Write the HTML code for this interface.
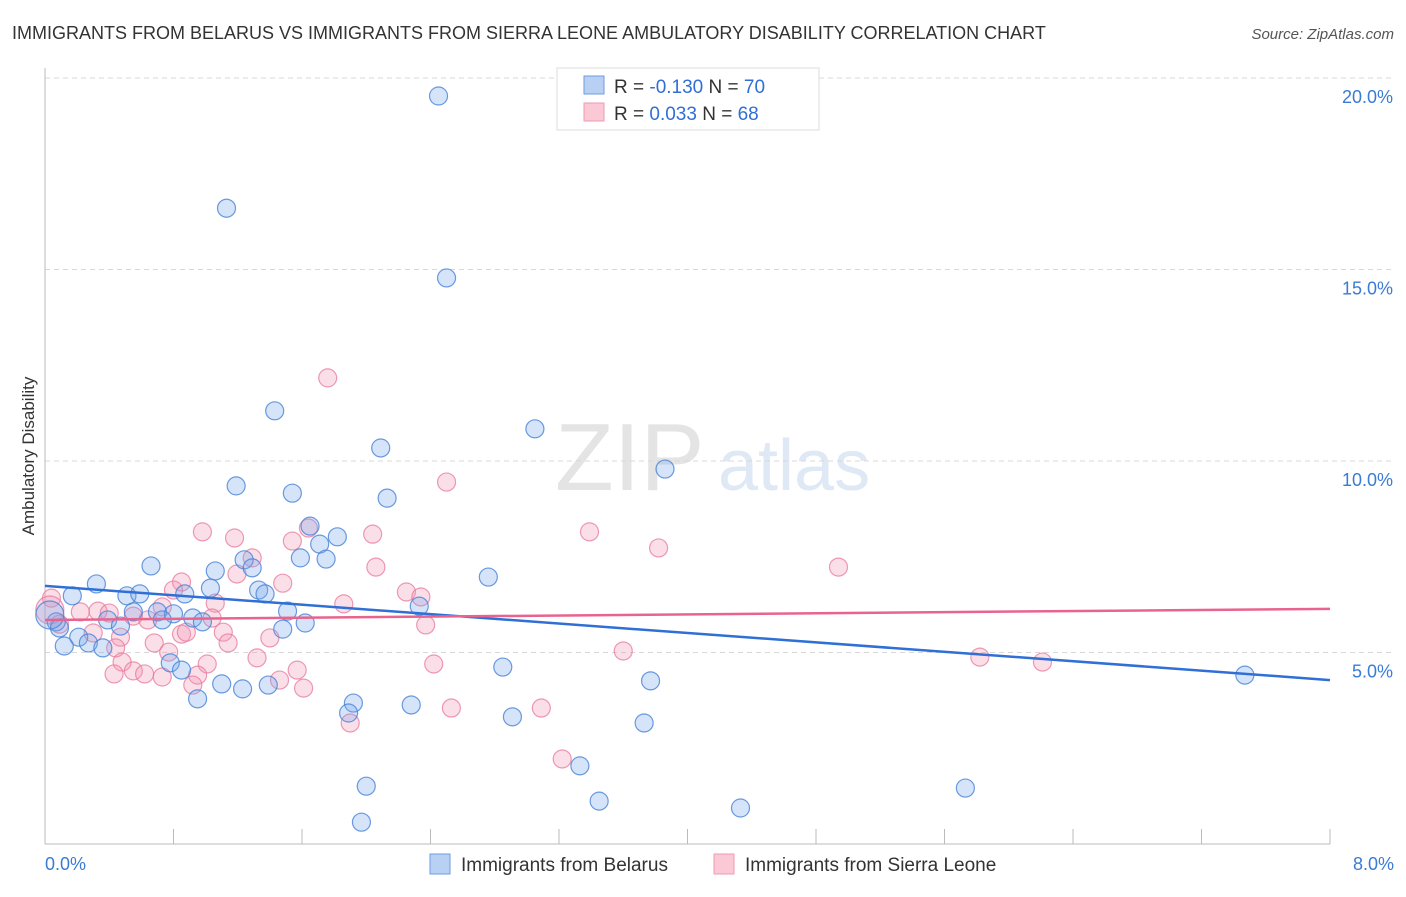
<!DOCTYPE html>
<html><head><meta charset="utf-8"><style>
body{margin:0;background:#fff;font-family:"Liberation Sans",sans-serif;}
svg text{font-family:"Liberation Sans",sans-serif;}
</style></head><body>
<svg id="chart" width="1406" height="892" xmlns="http://www.w3.org/2000/svg">
<text x="12" y="39" font-size="18" fill="#333">IMMIGRANTS FROM BELARUS VS IMMIGRANTS FROM SIERRA LEONE AMBULATORY DISABILITY CORRELATION CHART</text>
<text x="1394" y="39" font-size="15" fill="#555" text-anchor="end" font-style="italic">Source: ZipAtlas.com</text>
<text x="555" y="490" font-size="96" fill="#e4e4e4" font-family="Liberation Serif">ZIP</text>
<text x="718" y="490" font-size="72" fill="#dfe8f5">atlas</text>
<g id="grid"></g>
<g id="axes"></g>
<g id="marks"></g>
<text transform="translate(34,456) rotate(-90)" font-size="17" fill="#333" text-anchor="middle">Ambulatory Disability</text>
<g>
<rect x="557" y="68" width="262" height="62" fill="#fff" stroke="#ddd"/>
<rect x="584" y="76" width="20" height="18" fill="#b8d0f4" stroke="#6f9be0"/>
<rect x="584" y="103" width="20" height="18" fill="#fbc8d6" stroke="#ec9ab3"/>
<text x="614" y="93" font-size="19" fill="#333">R = <tspan fill="#2f6fd6">-0.130</tspan>   N = <tspan fill="#2f6fd6">70</tspan></text>
<text x="614" y="120" font-size="19" fill="#333">R =  <tspan fill="#2f6fd6">0.033</tspan>   N = <tspan fill="#2f6fd6">68</tspan></text>
</g>
<g>
<rect x="430" y="854" width="20" height="20" fill="#b8d0f4" stroke="#6f9be0"/>
<text x="461" y="871" font-size="19" fill="#333">Immigrants from Belarus</text>
<rect x="714" y="854" width="20" height="20" fill="#fbc8d6" stroke="#ec9ab3"/>
<text x="745" y="871" font-size="19" fill="#333">Immigrants from Sierra Leone</text>
</g>
</svg>
<script>
const blueX=[2.45,1.13,2.50,1.43,3.05,2.09,3.86,1.19,1.54,2.13,1.65,1.82,1.71,1.59,1.75,1.24,0.66,1.06,1.29,2.76,0.32,1.03,1.33,1.37,0.51,0.59,0.87,0.17,2.33,1.51,0.70,0.55,0.80,0.92,0.39,0.73,1.62,0.98,0.47,1.48,0.07,0.09,0.21,0.27,0.12,0.36,0.78,0.85,2.85,7.47,3.77,1.10,1.23,1.39,0.95,1.92,2.28,1.89,2.91,3.73,3.33,2.00,5.73,3.45,4.33,1.97,0.03];
const blueY=[19.53,16.6,14.78,11.31,10.84,10.34,9.79,9.35,9.16,9.03,8.30,8.02,7.83,7.47,7.44,7.42,7.26,7.13,7.21,6.97,6.79,6.68,6.63,6.53,6.48,6.53,6.53,6.48,6.21,6.08,6.06,6.06,6.01,5.90,5.85,5.85,5.77,5.80,5.69,5.61,5.80,5.64,5.40,5.25,5.17,5.12,4.73,4.54,4.62,4.41,4.26,4.18,4.05,4.15,3.79,3.68,3.63,3.42,3.32,3.16,2.04,1.51,1.46,1.12,0.94,0.57,5.98];
const pinkX=[1.76,2.50,0.98,3.39,1.18,2.04,1.64,1.54,3.82,1.29,4.94,2.06,1.195,0.85,1.48,0.80,2.25,2.34,0.04,1.86,1.06,0.73,0.33,0.22,0.40,0.55,1.04,0.64,0.09,2.37,0.30,0.85,0.88,1.11,0.47,1.40,0.68,1.14,0.44,0.77,3.60,5.82,1.32,0.48,1.01,2.42,6.21,1.57,0.55,0.95,0.62,0.43,0.73,1.46,0.92,1.61,2.53,3.09,1.90,3.22,0.03];
const pinkY=[12.17,9.45,8.15,8.15,7.99,8.09,8.25,7.91,7.73,7.47,7.23,7.23,7.05,6.84,6.81,6.63,6.58,6.45,6.42,6.27,6.29,6.19,6.08,6.06,6.03,5.95,5.90,5.85,5.74,5.72,5.51,5.48,5.53,5.53,5.40,5.38,5.25,5.25,5.12,5.01,5.04,4.88,4.86,4.75,4.70,4.70,4.75,4.54,4.52,4.41,4.44,4.44,4.36,4.28,4.15,4.07,3.55,3.55,3.16,2.22,6.11];
const blueTrend=[6.74,4.28];
const pinkTrend=[5.85,6.14];
const yTicks=[5,10,15,20];
const yTickLabels=["5.0%","10.0%","15.0%","20.0%"];
const xTickLabels=["0.0%","8.0%"];
const NS="http://www.w3.org/2000/svg";
const X0=45,X1=1330,Y0=844,YPER=38.3;
const sx=v=>X0+(v/8)*(X1-X0);
const sy=v=>Y0-v*YPER;
function mk(tag,attrs,parent){const e=document.createElementNS(NS,tag);for(const k in attrs)e.setAttribute(k,attrs[k]);parent.appendChild(e);return e;}
const grid=document.getElementById('grid'),axes=document.getElementById('axes'),marks=document.getElementById('marks');
yTicks.forEach((t,i)=>{
 const l=mk('line',{x1:X0,x2:1394,y1:sy(t),y2:sy(t),stroke:'#d8d8d8','stroke-dasharray':'5,4'},grid);
 
 
 const tx=mk('text',{x:1393,y:sy(t)+25,'font-size':18,fill:'#3a7bd5','text-anchor':'end'},axes);
 tx.textContent=yTickLabels[i];
 
 
});
let a=mk('line',{x1:X0,x2:X0,y1:68,y2:Y0,stroke:'#bbb'},axes);


a=mk('line',{x1:X0,x2:X1,y1:Y0,y2:Y0,stroke:'#bbb'},axes);


for(let i=0;i<=10;i++){
 const t=mk('line',{x1:sx(i*0.8),x2:sx(i*0.8),y1:829,y2:Y0,stroke:'#bbb'},axes);
 
 
}
[[0,'start',45],[8,'end',1394]].forEach((d,i)=>{
 const tx=mk('text',{x:d[2],y:870,'font-size':18,fill:'#3a7bd5','text-anchor':d[1]},axes);
 tx.textContent=xTickLabels[i];
 
 
});
function pts(xs,ys,fill,stroke,name){
 xs.forEach((x,i)=>{
  const big=i===xs.length-1;
  const c=mk('circle',{cx:sx(x),cy:sy(ys[i]),r:big?14:9,fill:fill,stroke:stroke,'stroke-width':1.2},marks);
  
  
 });
}
pts(pinkX,pinkY,'rgba(242,150,178,0.3)','rgba(232,120,155,0.75)','point-sierra-leone');
pts(blueX,blueY,'rgba(120,165,235,0.3)','rgba(70,130,215,0.8)','point-belarus');
let tl=mk('line',{x1:sx(0),x2:sx(8),y1:sy(blueTrend[0]),y2:sy(blueTrend[1]),stroke:'#2f6fd6','stroke-width':2.5},marks);


tl=mk('line',{x1:sx(0),x2:sx(8),y1:sy(pinkTrend[0]),y2:sy(pinkTrend[1]),stroke:'#e8648e','stroke-width':2.5},marks);


</script>
</body></html>
